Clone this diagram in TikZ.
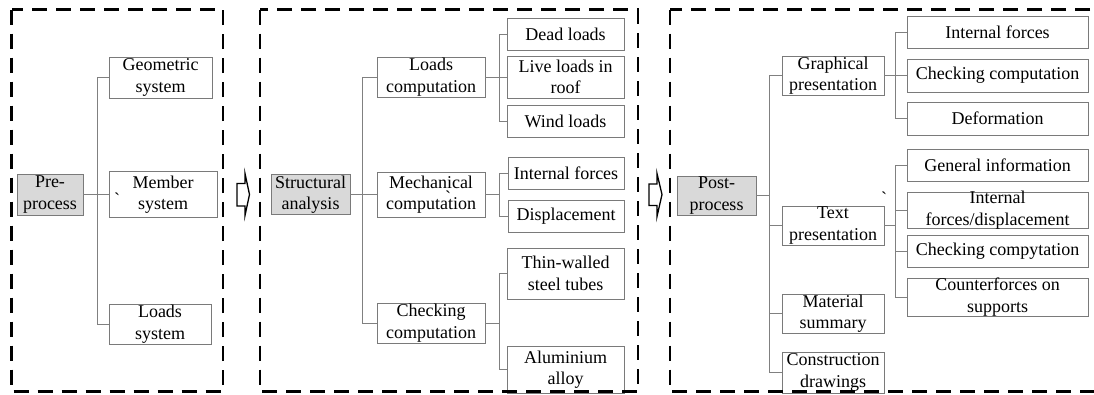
\documentclass[tikz,border=0pt]{standalone}
\usepackage{fontspec}
\setmainfont{Liberation Serif}
\definecolor{boxgray}{HTML}{7A7A7A}
\definecolor{linegray}{HTML}{808080}
\definecolor{rootfill}{HTML}{D9D9D9}
\tikzset{
  box/.style={draw=boxgray, line width=0.9pt, inner sep=0pt},
  rootbox/.style={box, fill=rootfill},
  txt/.style={font=\fontsize{18}{21.5}\selectfont, align=center, inner sep=0pt, text=black},
  conn/.style={draw=linegray, line width=0.9pt},
  grp/.style={draw=black, line width=2.7pt, dash pattern=on 15pt off 9pt},
  hollow/.style={draw=black, line width=1.3pt, line join=miter},
  stray/.style={txt, anchor=base}
}
\newcommand\bx[6]{\node[#1, minimum width=#4pt, minimum height=#5pt, label={[txt]center:{#6}}] (#2) at (#3) {};}
\begin{document}
\begin{tikzpicture}[x=1pt, y=-1pt]
\useasboundingbox (0,0) rectangle (1094,394);
\clip (0,0) rectangle (1094,394);

% ---------- Group 1 ----------
\bx{rootbox}{pre}{50,194.5}{66}{41}{Pre-\\process}
\bx{box}{geo}{160.5,77.5}{103}{41}{Geometric\\system}
\bx{box}{mem}{163,194.5}{108}{46}{Member\\system}
\bx{box}{lsys}{160,324}{102}{40}{Loads\\system}
\node[stray] (s1) at (117,205) {\textasciigrave};
\coordinate (t1) at (97,0);
\draw[conn] (geo.west) -- (geo.west -| t1) -- (lsys.west -| t1) -- (lsys.west);
\draw[conn] (pre.east) -- (mem.west);

% ---------- Group 2 ----------
\bx{rootbox}{sa}{310.5,194.5}{79}{40}{Structural\\analysis}
\bx{box}{lc}{431,77}{108}{40}{Loads\\computation}
\bx{box}{mc}{431,194.5}{108}{45}{Mechanical\\computation}
\bx{box}{cc}{431,323}{108}{40}{Checking\\computation}
\node[stray] (s2) at (448,203) {\textasciigrave};
\coordinate (t2) at (362,0);
\draw[conn] (lc.west) -- (lc.west -| t2) -- (cc.west -| t2) -- (cc.west);
\draw[conn] (sa.east) -- (mc.west);

\bx{box}{dead}{565.5,34}{117}{32}{Dead loads}
\bx{box}{live}{565.5,77}{117}{42}{Live loads in\\roof}
\bx{box}{wind}{565.5,121}{117}{32}{Wind loads}
\bx{box}{intf}{566,173}{116}{32}{Internal forces}
\bx{box}{disp}{566,216}{116}{32}{Displacement}
\bx{box}{thin}{565.5,273.5}{117}{51}{Thin-walled\\steel tubes}
\bx{box}{alu}{565.5,369.5}{117}{47}{Aluminium\\alloy}
\coordinate (u2) at (499,0);
\draw[conn] (dead.west) -- (dead.west -| u2) -- (wind.west -| u2) -- (wind.west);
\draw[conn] (lc.east) -- (live.west);
\draw[conn] (intf.west) -- (intf.west -| u2) -- (disp.west -| u2) -- (disp.west);
\draw[conn] (mc.east) -- (mc.east -| u2);
\draw[conn] (thin.west) -- (thin.west -| u2) -- (alu.west -| u2) -- (alu.west);
\draw[conn] (cc.east) -- (cc.east -| u2);

% ---------- Group 3 ----------
\bx{rootbox}{post}{716.5,195.5}{79}{39}{Post-\\process}
\bx{box}{gp}{833,75.5}{102}{39}{Graphical\\presentation}
\bx{box}{tp}{833,225.5}{102}{39}{Text\\presentation}
\bx{box}{ms}{833,313.5}{102}{39}{Material\\summary}
\bx{box}{cd}{833,372.5}{102}{41}{Construction\\drawings}
\node[stray] (s3) at (884,204) {\textasciigrave};
\coordinate (t3) at (769,0);
\draw[conn] (gp.west) -- (gp.west -| t3) -- (cd.west -| t3) -- (cd.west);
\draw[conn] (tp.west) -- (tp.west -| t3);
\draw[conn] (ms.west) -- (ms.west -| t3);
\draw[conn] (post.east) -- (post.east -| t3);

\bx{box}{ifa}{997.5,32}{181}{32}{Internal forces}
\bx{box}{cca}{997.5,75.5}{181}{33}{Checking computation}
\bx{box}{dfm}{997.5,118.5}{181}{33}{Deformation}
\bx{box}{gen}{997.5,165}{181}{32}{General information}
\bx{box}{ifd}{997.5,210}{181}{36}{Internal\\forces/displacement}
\bx{box}{ccb}{997.5,251}{181}{32}{Checking compytation}
\bx{box}{cfs}{997.5,297}{181}{38}{Counterforces on\\supports}
\coordinate (u3) at (895,0);
\draw[conn] (ifa.west) -- (ifa.west -| u3) -- (dfm.west -| u3) -- (dfm.west);
\draw[conn] (gp.east) -- (cca.west);
\draw[conn] (gen.west) -- (gen.west -| u3) -- (cfs.west -| u3) -- (cfs.west);
\draw[conn] (ifd.west) -- (ifd.west -| u3);
\draw[conn] (ccb.west) -- (ccb.west -| u3);
\draw[conn] (tp.east) -- (tp.east -| u3);

% ---------- hollow arrows ----------
\draw[hollow] (237,183.5) -- (245,183.5) -- (245,173.5) -- (249.5,194.5) -- (245,215.5) -- (245,206) -- (237,206) -- cycle;
\draw[hollow] (649,184) -- (657,184) -- (657,173.5) -- (662,194.5) -- (657,216.5) -- (657,205.5) -- (649,205.5) -- cycle;

% ---------- dashed groups ----------
\draw[grp] (11.5,9.5) rectangle (223,391.5);
\draw[grp] (260,9.5) rectangle (638,391.5);
\draw[grp] (670,9.5) rectangle (1110,391.5);
\end{tikzpicture}
\end{document}
